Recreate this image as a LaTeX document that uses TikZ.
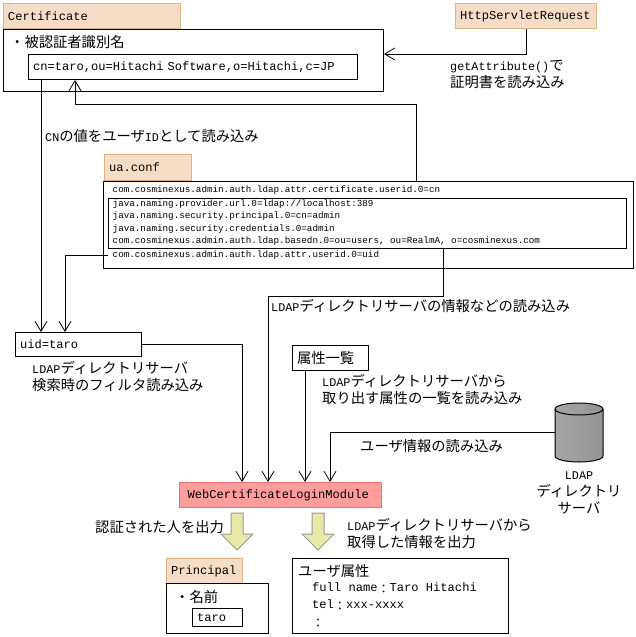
\documentclass[tikz,border=0pt]{standalone}
\usepackage{fontspec}
\setmainfont{Liberation Mono}
\newfontfamily\jpfont{Noto Sans CJK JP}
\usetikzlibrary{arrows.meta}
\definecolor{tagfill}{HTML}{F6DDC8}
\definecolor{tagline}{HTML}{E0B080}
\definecolor{modfill}{HTML}{FF9C9C}
\definecolor{modline}{HTML}{F07070}
\definecolor{outfill}{HTML}{E8E9A9}
\newcommand{\ja}[1]{{\jpfont\fontsize{14.3}{17}\selectfont #1}}
\newcommand{\hw}[1]{{\rmfamily\fontsize{11.8}{17}\selectfont #1}}
\newcommand{\fullcolon}{{\jpfont\raisebox{-2pt}{：}}}
\tikzset{
    sheet/.style 2 args={draw=black, line width=1pt, anchor=north west, inner xsep=4.5pt, inner ysep=0pt,
        text width={#1pt-9pt}, minimum height=#2pt, font=\fontsize{12.1}{17}\selectfont},
    tagbox/.style 2 args={sheet={#1}{#2}, draw=tagline, fill=tagfill},
    modbox/.style 2 args={sheet={#1}{#2}, draw=modline, fill=modfill, inner xsep=8pt, text width={#1pt-16pt}},
    note/.style={anchor=north west, inner sep=0pt, align=left, font=\fontsize{14.3}{17}\selectfont},
    confline/.style={anchor=west, inner xsep=4.5pt, inner ysep=0pt, font=\fontsize{9.25}{11}\selectfont},
    flow/.style={line width=1pt, -{Straight Barb[length=10pt,width=12pt,line width=0.8pt]}},
    outarrow/.style={draw=black!40, fill=outfill, line width=1pt},
    drum/.style={draw=black, line width=1pt, left color=black!35, middle color=black!5, right color=black!42},
}
\begin{document}
\begin{tikzpicture}[x=1pt, y=-1pt]
    \useasboundingbox (0,0) rectangle (636,637);

    \node[tagbox={177}{25}] (certtag) at (3,3) {Certificate};
    \node[sheet={380}{62}] (certbox) at (3,29) {};
    \node[note] (dnlabel) at (10,35) {\ja{・被認証者識別名}};
    \node[sheet={329}{25}] (cnbox) at (28,54) {cn=taro,ou=Hitachi Software,o=Hitachi,c=JP};

    \node[tagbox={141}{25}] (reqtag) at (455,3) {HttpServletRequest};
    \node[note] (reqnote) at (450,60) {\hw{getAttribute()}\ja{で}\\\ja{証明書を読み込み}};

    \node[note] (cnnote) at (45,129) {\ja{\hw{CN}の値をユーザ\hw{ID}として読み込み}};

    \node[tagbox={87}{26}] (conftag) at (104,154) {ua.conf};
    \node[sheet={530}{87}] (confbox) at (103,181) {};
    \node[sheet={518}{50}] (ldapbox) at (108,198) {};
    \node[confline] (attrline) at (108,190) {com.cosminexus.admin.auth.ldap.attr.certificate.userid.0=cn};
    \node[confline] (urlline) at (108,204) {java.naming.provider.url.0=ldap://localhost:389};
    \node[confline] (princline) at (108,216.5) {java.naming.security.principal.0=cn=admin};
    \node[confline] (credline) at (108,229) {java.naming.security.credentials.0=admin};
    \node[confline] (basedn) at (108,241) {com.cosminexus.admin.auth.ldap.basedn.0=ou=users, ou=RealmA, o=cosminexus.com};
    \node[confline] (uidline) at (108,255) {com.cosminexus.admin.auth.ldap.attr.userid.0=uid};

    \node[note] (ldapnote) at (271,299) {\ja{\hw{LDAP}ディレクトリサーバの情報などの読み込み}};

    \node[sheet={126}{24}] (uidbox) at (15,332) {uid=taro};
    \node[note] (uidnote) at (32,361) {\ja{\hw{LDAP}ディレクトリサーバ}\\\ja{検索時のフィルタ読み込み}};

    \node[sheet={76}{25}] (attrbox) at (292,345) {\ja{属性一覧}};
    \node[note] (attrnote) at (322,374) {\ja{\hw{LDAP}ディレクトリサーバから}\\\ja{取り出す属性の一覧を読み込み}};

    \node[note] (usernote) at (360,439) {\ja{ユーザ情報の読み込み}};
    % drum: the node only holds the size, the shape is drawn on top of it
    \node[minimum width=48pt, minimum height=59pt, inner sep=0pt] (ldap) at (579,432.5) {};
    \draw[drum] (555,409) -- (555,456) arc[start angle=180, end angle=0, x radius=24, y radius=6]
        -- (603,409) arc[start angle=0, end angle=-180, x radius=24, y radius=6] -- cycle;
    \draw[line width=1pt] (555,409) arc[start angle=180, end angle=0, x radius=24, y radius=6];
    \node[note, align=center, anchor=north] (ldapname) at (579,472) {\hw{LDAP}\\\ja{ディレクトリ}\\\ja{サーバ}};

    \node[modbox={202}{25}] (module) at (179,482) {WebCertificateLoginModule};

    \path[outarrow] (231,513) -- (243,513) -- (243,534) -- (253,534) -- (237,550) -- (221,534) -- (231,534) -- cycle;
    \path[outarrow] (312,513) -- (324,513) -- (324,534) -- (334,534) -- (318,550) -- (302,534) -- (312,534) -- cycle;
    \node[note] (leftnote) at (95,520) {\ja{認証された人を出力}};
    \node[note] (rightnote) at (347,518) {\ja{\hw{LDAP}ディレクトリサーバから}\\\ja{取得した情報を出力}};

    \node[tagbox={76}{25}] (princtag) at (166,558) {Principal};
    \node[sheet={102}{50}] (princbox) at (166,583) {};
    \node[note] (namelabel) at (175,590) {\ja{・名前}};
    \node[sheet={50}{18}] (tarobox) at (192,608) {taro};

    \node[sheet={216}{75}] (userbox) at (292,558) {};
    \node[note] (userlabel) at (298,564) {\ja{ユーザ属性}};
    \node[note, font=\fontsize{12.1}{17}\selectfont] (userdata) at (312,583) {full name\fullcolon Taro Hitachi\\tel\fullcolon xxx-xxxx\\\fullcolon};

    % connectors
    \draw[flow] (reqtag.south) |- (certbox.east |- cnbox.north);
    \draw[flow] ([xshift=13pt]cnbox.south west) -- ([xshift=26pt]uidbox.north west);
    \draw[flow] ([xshift=313pt]confbox.north west) |- (75,104) -- ([xshift=47pt]cnbox.south west);
    \draw[flow] (uidline.west) -| ([xshift=50pt]uidbox.north west);
    \draw[flow] (uidbox.east) -| ([xshift=63pt]module.north west);
    \draw[flow] ([xshift=335pt]ldapbox.south west) |- (268,296) -- ([xshift=89pt]module.north west);
    \draw[flow] ([xshift=13pt]attrbox.south west) -- ([xshift=126pt]module.north west);
    \draw[flow] (ldap.west) -| ([xshift=151pt]module.north west);
\end{tikzpicture}
\end{document}
